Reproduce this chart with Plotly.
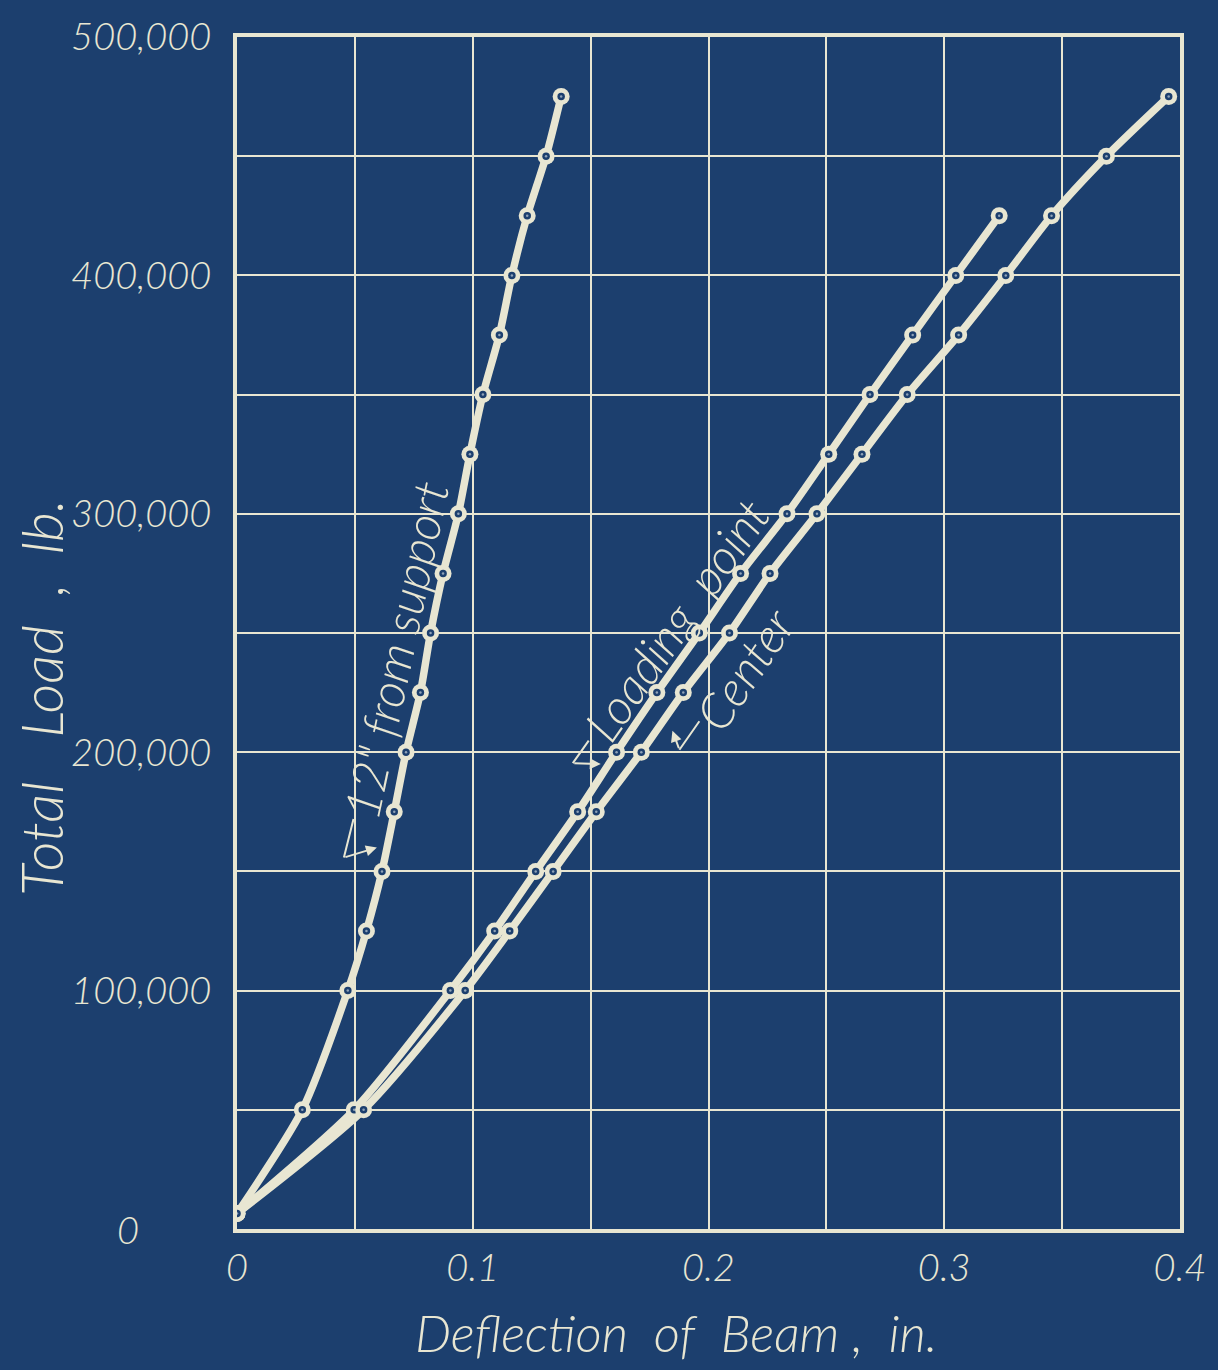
import numpy as np
import plotly.graph_objects as go

# Blueprint palette
BG = "#1c3f6e"
INK = "#e8e6d2"
FONT = "Lato"

# Total load on the beam (lb) and deflection (in.) at each gauge
load_support = [6500, 50000, 100000, 125000, 150000, 175000, 200000, 225000, 250000,
                275000, 300000, 325000, 350000, 375000, 400000, 425000, 450000, 475000]
defl_support = [0.0, 0.0277, 0.0470, 0.0549, 0.0615, 0.0667, 0.0717, 0.0778, 0.0821,
                0.0874, 0.0939, 0.0988, 0.1043, 0.1113, 0.1166, 0.1231, 0.1311, 0.1375]

load_loading = [6500, 50000, 100000, 125000, 150000, 175000, 200000, 225000, 250000,
                275000, 300000, 325000, 350000, 375000, 400000, 425000]
defl_loading = [0.0, 0.0497, 0.0905, 0.1093, 0.1267, 0.1445, 0.1610, 0.1781, 0.1961,
                0.2136, 0.2333, 0.2510, 0.2685, 0.2866, 0.3049, 0.3233]

load_center = [6500, 50000, 100000, 125000, 150000, 175000, 200000, 225000, 250000,
               275000, 300000, 325000, 350000, 375000, 400000, 425000, 450000, 475000]
defl_center = [0.0, 0.0537, 0.0968, 0.1157, 0.1341, 0.1524, 0.1715, 0.1893, 0.2089,
               0.2261, 0.2460, 0.2651, 0.2843, 0.3061, 0.3261, 0.3455, 0.3688, 0.3952]

# Axis ticks
x_ticks = [0, 0.05, 0.1, 0.15, 0.2, 0.25, 0.3, 0.35, 0.4]
x_tick_text = ["0", "", "0.1", "", "0.2", "", "0.3", "", "0.4"]
y_ticks = [0, 50000, 100000, 150000, 200000, 250000, 300000, 350000, 400000, 450000, 500000]
y_tick_text = ["", "", "100,000", "", "200,000", "", "300,000", "", "400,000", "", "500,000"]

series = [
    (defl_support, load_support),
    (defl_loading, load_loading),
    (defl_center, load_center),
]

fig = go.Figure()

# Curves first, then the plotted points on top of them
for xs, ys in series:
    fig.add_trace(go.Scatter(
        x=xs, y=ys, mode="lines",
        line=dict(color=INK, width=7.5, shape="spline", smoothing=0.7),
        hoverinfo="skip", showlegend=False,
    ))
for xs, ys in series:
    fig.add_trace(go.Scatter(x=xs, y=ys, mode="markers",
                             marker=dict(size=17, color=INK, line=dict(width=0)),
                             hoverinfo="skip", showlegend=False))
    fig.add_trace(go.Scatter(x=xs, y=ys, mode="markers",
                             marker=dict(size=7.5, color=BG, line=dict(width=0)),
                             hoverinfo="skip", showlegend=False))
    fig.add_trace(go.Scatter(x=xs, y=ys, mode="markers",
                             marker=dict(size=2.5, color="#8fa2b8", line=dict(width=0)),
                             hoverinfo="skip", showlegend=False))

annotations = []

# Curve labels, lettered along each line
label_font = dict(family=FONT, size=49, color=INK, style="italic", weight=300)
annotations.append(dict(x=0.0670, y=243000, xref="x", yref="y",
                        text='12"\u00a0from\u00a0support',
                        textangle=-78, showarrow=False, font=label_font))
annotations.append(dict(x=0.1862, y=256000, xref="x", yref="y",
                        text="Loading\u00a0\u00a0point",
                        textangle=-55, showarrow=False, font=label_font))
annotations.append(dict(x=0.2150, y=235000, xref="x", yref="y", text="Center",
                        textangle=-56, showarrow=False, font=label_font))


def leader(xs, ys, load, tip_shift, bend, top):
    """Two-stroke leader: arrow from a bend point onto the curve, plus a tail stroke."""
    x = float(np.interp(load, ys, xs))
    annotations.append(dict(x=x, y=load, xref="x", yref="y", text="", showarrow=True,
                            arrowhead=2, arrowsize=1.1, arrowwidth=2, arrowcolor=INK,
                            ax=bend[0], ay=bend[1], xshift=tip_shift[0], yshift=tip_shift[1]))
    annotations.append(dict(x=x, y=load, xref="x", yref="y", text="", showarrow=True,
                            arrowhead=0, arrowwidth=2, arrowcolor=INK,
                            ax=top[0], ay=top[1],
                            xshift=tip_shift[0] + bend[0], yshift=tip_shift[1] - bend[1]))


leader(defl_support, load_support, 160000, (-10, 0), (-33, 10), (10, -40))
leader(defl_loading, load_loading, 195000, (-8, 0), (-28, -1), (17, -24))
leader(defl_center, load_center, 209000, (16, 0), (7, 19), (21, -30))

# Zero of the load scale sits apart from the other figures
tick_font = dict(family=FONT, size=38, color=INK, style="italic", weight=300)
annotations.append(dict(x=-0.1158, y=0, xref="paper", yref="y", text="0", showarrow=False,
                        xanchor="center", yanchor="middle", font=tick_font))

# Axis titles
title_font = dict(family=FONT, size=51, color=INK, style="italic", weight=300)
annotations.append(dict(x=0.466, y=-0.087, xref="paper", yref="paper",
                        text="Deflection\u00a0\u00a0of\u00a0\u00a0Beam\u00a0,\u00a0\u00a0in.",
                        showarrow=False, xanchor="center", yanchor="middle", font=title_font))
annotations.append(dict(x=-0.2085, y=223000, xref="paper", yref="y",
                        text="Total\u00a0\u00a0\u00a0Load\u00a0\u00a0,\u00a0\u00a0lb.", textangle=-90,
                        showarrow=False, xanchor="center", yanchor="middle",
                        font=dict(title_font, size=58)))

fig.update_layout(
    width=1218, height=1370,
    margin=dict(l=237, r=31, t=33, b=141),
    paper_bgcolor=BG, plot_bgcolor=BG,
    showlegend=False,
    annotations=annotations,
    xaxis=dict(
        range=[0, 0.4], tickmode="array", tickvals=x_ticks, ticktext=x_tick_text,
        showgrid=True, gridcolor=INK, gridwidth=2, zeroline=False,
        showline=True, linecolor=INK, linewidth=4, mirror=True,
        ticks="", ticklabelstandoff=2, tickfont=tick_font,
    ),
    yaxis=dict(
        range=[0, 500000], tickmode="array", tickvals=y_ticks, ticktext=y_tick_text,
        showgrid=True, gridcolor=INK, gridwidth=2, zeroline=False,
        showline=True, linecolor=INK, linewidth=4, mirror=True,
        ticks="", ticklabelstandoff=14, tickfont=tick_font,
    ),
)

fig.write_html("out.html")
